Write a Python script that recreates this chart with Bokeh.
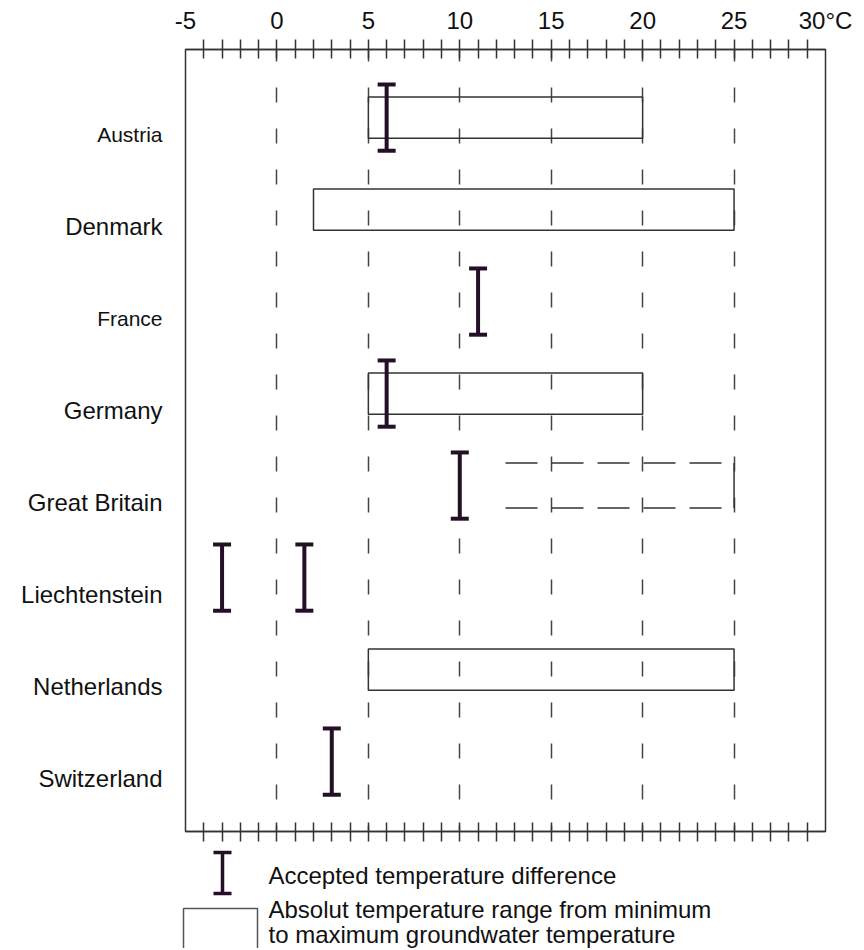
from bokeh.plotting import figure
from bokeh.models import Range1d, LinearAxis, FixedTicker, Grid, ColumnDataSource
from bokeh.layouts import row, column
from bokeh.embed import file_html
from bokeh.resources import INLINE
from bokeh.core.properties import value

# ---------------- data ----------------
countries = ["Austria", "Denmark", "France", "Germany", "Great Britain",
             "Liechtenstein", "Netherlands", "Switzerland"]
label_sizes = ["21px", "24px", "21px", "24px", "24px", "24px", "24px", "24px"]

# absolute temperature range (min .. max groundwater temperature), deg C
range_country = ["Austria", "Denmark", "Germany", "Netherlands"]
range_min = [5, 2, 5, 5]
range_max = [20, 25, 20, 25]

# uncertain (dashed) range
dashed_country = ["Great Britain"]
dashed_min = [12.5]
dashed_max = [25]

# accepted temperature difference markers
diff_country = ["Austria", "France", "Germany", "Great Britain",
                "Liechtenstein", "Liechtenstein", "Switzerland"]
diff_value = [6, 11, 6, 10, -3, 1.5, 3]

x_ticks = [-5, 0, 5, 10, 15, 20, 25, 30]
x_tick_labels = ["-5", "0", "5", "10", "15", "20", "25", "30°C"]
x_minor_ticks = list(range(-4, 30))
grid_ticks = [0, 5, 10, 15, 20, 25]

legend_texts = ["Accepted temperature difference",
                "Absolut temperature range from minimum",
                "to maximum groundwater temperature"]

# ---------------- styling / layout ----------------
FONT = "Liberation Sans"
DARK = "#241026"
LINE = "#333333"
BOX_HALF = 0.225
DASH_HALF = 0.245
BAR_HALF = 0.36
LABEL_SHIFT = 0.18
Y_RANGE = Range1d(7.76, -0.74)
H_MAIN = 843
TOP_B, BOT_B = 49, 12
LEFT_W = 170
FRAME_L, FRAME_R = 185, 825
TOTAL_W, TOTAL_H = 862, 948

idx = {c: i for i, c in enumerate(countries)}


def make_xaxis(show_labels, visible=True):
    ax = LinearAxis(ticker=FixedTicker(ticks=x_ticks, minor_ticks=x_minor_ticks))
    ax.major_label_overrides = {t: l for t, l in zip(x_ticks, x_tick_labels)}
    ax.major_tick_line_color = None
    ax.major_tick_in = 0
    ax.major_tick_out = 10
    ax.minor_tick_in = 9
    ax.minor_tick_out = 10
    ax.minor_tick_line_width = 1.5
    ax.minor_tick_line_color = LINE if visible else None
    ax.axis_line_color = LINE if visible else None
    ax.axis_line_width = 1.5
    ax.major_label_standoff = 6
    ax.major_label_text_font = FONT
    if show_labels:
        ax.major_label_text_font_size = "24px"
        ax.major_label_text_color = "#111111" if visible else None
    else:
        ax.major_label_text_font_size = "0px"
        ax.major_label_text_color = None
    return ax


# ---------------- label column ----------------
lf = figure(width=LEFT_W, height=H_MAIN, x_range=Range1d(0, LEFT_W), y_range=Y_RANGE,
            output_backend="svg", toolbar_location=None,
            x_axis_type=None, y_axis_type=None,
            min_border_left=0, min_border_right=0,
            min_border_top=TOP_B, min_border_bottom=BOT_B)
lf.outline_line_color = None
lf.add_layout(make_xaxis(True, visible=False), "above")
lf.add_layout(make_xaxis(False, visible=False), "below")
LABEL_X = 162
lsrc = ColumnDataSource(dict(
    x=[LABEL_X] * len(countries),
    y=[i + LABEL_SHIFT for i in range(len(countries))],
    text=countries, size=label_sizes))
lf.text(x="x", y="y", text="text", source=lsrc, text_align="right",
        text_baseline="middle", text_font=value(FONT), text_font_size="size",
        text_color="#111111")

# ---------------- main chart ----------------
p = figure(width=TOTAL_W - LEFT_W, height=H_MAIN, x_range=Range1d(-5, 30), y_range=Y_RANGE,
           output_backend="svg", toolbar_location=None,
           x_axis_type=None, y_axis_type=None,
           min_border_left=FRAME_L - LEFT_W, min_border_right=TOTAL_W - FRAME_R,
           min_border_top=TOP_B, min_border_bottom=BOT_B)
p.outline_line_color = LINE
p.outline_line_width = 1.5
p.add_layout(make_xaxis(True), "above")
p.add_layout(make_xaxis(False), "below")

grid = Grid(dimension=0, ticker=FixedTicker(ticks=grid_ticks))
grid.grid_line_color = "#444444"
grid.grid_line_width = 1.5
grid.grid_line_dash = "15 26"
grid.grid_line_dash_offset = 3
p.add_layout(grid)

ry = [idx[c] for c in range_country]
p.quad(left=range_min, right=range_max,
       top=[y - BOX_HALF for y in ry], bottom=[y + BOX_HALF for y in ry],
       fill_color=None, line_color=LINE, line_width=1.5)

dy = [idx[c] for c in dashed_country]
p.segment(x0=dashed_min + dashed_min, x1=dashed_max + dashed_max,
          y0=[y - DASH_HALF for y in dy] + [y + DASH_HALF for y in dy],
          y1=[y - DASH_HALF for y in dy] + [y + DASH_HALF for y in dy],
          line_color=LINE, line_width=1.5, line_dash="32 14")
p.segment(x0=dashed_max, x1=dashed_max,
          y0=[y - DASH_HALF for y in dy], y1=[y + DASH_HALF for y in dy],
          line_color=LINE, line_width=1.5)

by = [idx[c] for c in diff_country]
p.segment(x0=diff_value, x1=diff_value,
          y0=[y - BAR_HALF for y in by], y1=[y + BAR_HALF for y in by],
          line_color=DARK, line_width=4)
p.scatter(x=diff_value + diff_value,
          y=[y - BAR_HALF for y in by] + [y + BAR_HALF for y in by],
          marker="dash", size=18, line_color=DARK, line_width=4)

# ---------------- legend strip ----------------
LG_H = TOTAL_H - H_MAIN
lg = figure(width=TOTAL_W, height=LG_H, x_range=Range1d(0, TOTAL_W), y_range=Range1d(LG_H, 0),
            output_backend="svg", toolbar_location=None,
            x_axis_type=None, y_axis_type=None, min_border=0)
lg.outline_line_color = None
lg.xgrid.visible = False
lg.ygrid.visible = False
ICON_X, ICON_Y0, ICON_Y1 = 222, 9, 50
lg.segment(x0=[ICON_X], x1=[ICON_X], y0=[ICON_Y0], y1=[ICON_Y1], line_color=DARK, line_width=3.5)
lg.scatter(x=[ICON_X, ICON_X], y=[ICON_Y0, ICON_Y1], marker="dash", size=18,
           line_color=DARK, line_width=3.5)
lg.quad(left=[183], right=[257], top=[65], bottom=[LG_H + 20],
        fill_color=None, line_color="#555555", line_width=1.5)
lg.text(x=[268, 268, 268], y=[32, 66, 91], text=legend_texts,
        text_baseline="middle", text_align="left", text_font=value(FONT),
        text_font_size="24px", text_color="#111111")

layout = column(row(lf, p), lg)
open("out.html", "w").write(file_html(layout, INLINE))
